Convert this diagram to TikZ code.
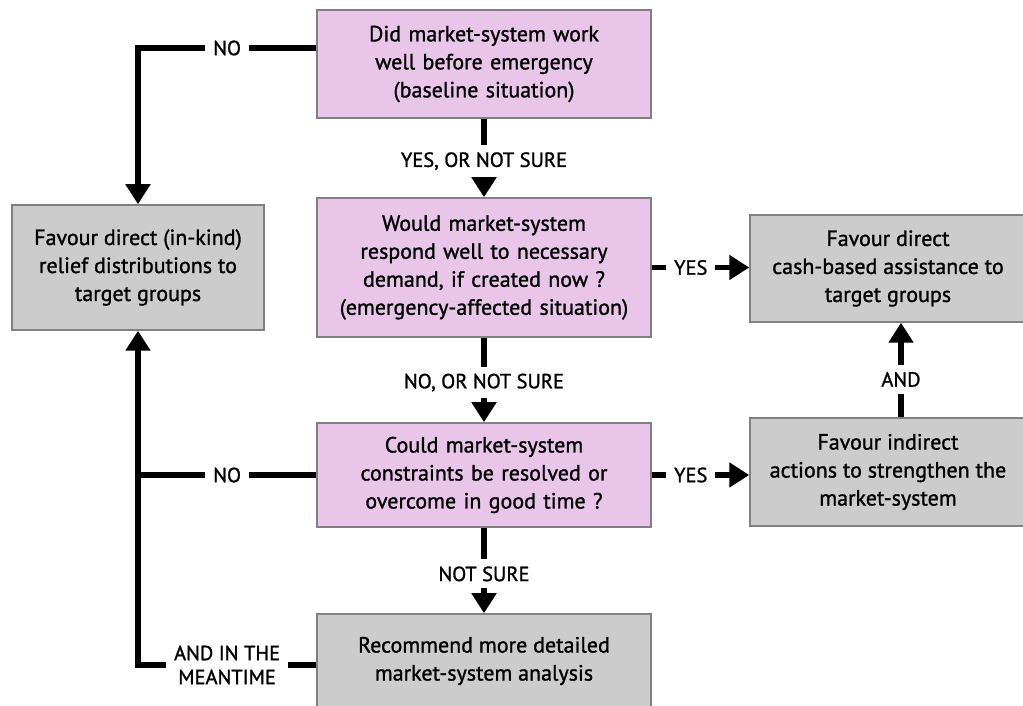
\documentclass[tikz,border=0pt]{standalone}
\usepackage{fontspec}
\setmainfont{PT Sans}[BoldFont=PT Sans, BoldFeatures={FakeBold=1.2}]
\usetikzlibrary{arrows.meta,positioning}
\definecolor{qpink}{RGB}{233,198,233}
\definecolor{agrey}{RGB}{204,204,204}
\definecolor{edgegrey}{RGB}{128,128,128}
\begin{document}
\begin{tikzpicture}[
        x=1pt, y=1pt,
        % box styles
        question/.style={rectangle, minimum width=334pt, text width=320pt, align=center, draw=edgegrey, line width=1.5pt, fill=qpink, font=\bfseries\fontsize{22}{28}\selectfont},
        action/.style={rectangle, align=center, draw=edgegrey, line width=1.5pt, fill=agrey, font=\bfseries\fontsize{22}{28}\selectfont},
        arrow/.style={line width=5.5pt, -{Triangle[width=24pt,length=20pt]}},
        link/.style={line width=5.5pt},
        answer/.style={fill=white, inner xsep=8pt, inner ysep=7pt, align=center, font=\bfseries\fontsize{20.5}{24}\selectfont}
    ]
        \useasboundingbox (0,0) rectangle (1023,706);

        % questions (middle column)
        \node (q1) [question, minimum height=108pt] at (484,642) {Did market-system work\\well before emergency\\(baseline situation)};
        \node (q2) [question, minimum height=139pt] at (484,438.5) {Would market-system\\respond well to necessary\\demand, if created now ?\\(emergency-affected situation)};
        \node (q3) [question, minimum height=104pt] at (484,231) {Could market-system\\constraints be resolved or\\overcome in good time ?};
        \node (rec) [action, minimum width=334pt, minimum height=94pt] at (484,45) {Recommend more detailed\\market-system analysis};

        % outcomes (side columns)
        \node (lb) [action, minimum width=252pt, minimum height=125pt] at (138,438.5) {Favour direct (in-kind)\\relief distributions to\\target groups};
        \node (rt) [action, minimum width=276pt, minimum height=107pt] at (888,437.5) {Favour direct\\cash-based assistance to\\target groups};
        \node (rb) [action, minimum width=276pt, minimum height=108pt] at (888,234) {Favour indirect\\actions to strengthen the\\market-system};

        % connections
        \draw[arrow] (q1) -- node[answer, pos=0.54] {YES, OR NOT SURE} (q2);
        \draw[arrow] (q2) -- node[answer, pos=0.53] {NO, OR NOT SURE} (q3);
        \draw[arrow] (q3) -- node[answer, pos=0.54] {NOT SURE} (rec);
        \draw[arrow] ([yshift=16pt]q1.west) -| node[answer, pos=0.25] {NO} (lb.north);
        \draw[arrow] (q2.east) -- node[answer, pos=0.4] {YES} (q2.east -| rt.west);
        \draw[arrow] (q3.east) -- node[answer, pos=0.4] {YES} (q3.east -| rb.west);
        \draw[arrow] ([xshift=13pt]rb.north) -- node[answer, pos=0.4] {AND} ([xshift=13pt]rt.south);
        \draw[link] (q3.west) -- node[answer] {NO} (q3.west -| lb.south);
        \draw[arrow] ([yshift=-4pt]rec.west) -| node[answer, pos=0.25] {AND IN THE\\MEANTIME} (lb.south);

    \end{tikzpicture}
\end{document}
